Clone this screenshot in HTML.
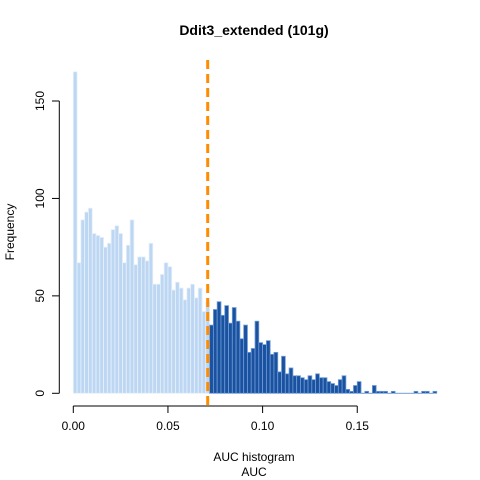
<!DOCTYPE html>
<html><head><meta charset="utf-8"><style>
html,body{margin:0;padding:0;background:#fff;}
svg{display:block;font-family:"Liberation Sans",sans-serif;}
</style></head><body>
<svg id="chart" width="480" height="480">
<text x="254" y="35" text-anchor="middle" font-weight="bold" font-size="14">Ddit3_extended (101g)</text>
<text x="254" y="461" text-anchor="middle" font-size="12">AUC histogram</text>
<text x="254" y="476" text-anchor="middle" font-size="12">AUC</text>
<text transform="translate(14,232) rotate(-90)" text-anchor="middle" font-size="12">Frequency</text>
<g id="bars"></g>
<g id="axes"></g>
</svg>
<script>
const binWidth = 0.002;
const threshold = 0.071;
const darkStart = 0.072;
const counts = [165,67,89,93,95,82,81,80,75,77,84,86,82,67,76,89,66,70,70,68,77,56,56,61,67,65,53,57,54,48,54,56,49,54,42,47,
35,43,47,40,45,36,44,37,28,35,21,23,37,26,25,27,20,21,11,19,10,13,9,9,8,7,9,7,10,8,8,6,5,4,7,9,2,1,4,6,0,1,0,4,1,1,1,0,1,0,0,0,0,0,1,0,1,1,0,1];
const xTicks = [0, 0.05, 0.10, 0.15];
const xTickLabels = ["0.00","0.05","0.10","0.15"];
const yTicks = [0, 50, 100, 150];

const NS = "http://www.w3.org/2000/svg";
const xS = v => 73.3 + v * 1893;
const yS = v => 393.3 - v * (292.3/150);
const bars = document.getElementById('bars');
const axes = document.getElementById('axes');
function mk(tag, attrs, parent){const e=document.createElementNS(NS,tag);for(const k in attrs)e.setAttribute(k,attrs[k]);parent.appendChild(e);return e;}

counts.forEach((c,i)=>{
  const x0 = i*binWidth, x1 = (i+1)*binWidth;
  const dark = x0 >= darkStart - 1e-9;
  let r;
  if (c<=0) {
    r = mk('line',{x1:xS(x0),x2:xS(x1),y1:yS(0),y2:yS(0),stroke:'#6f9bd6','stroke-width':1}, bars);
  } else {
    r = mk('rect',{x:xS(x0),y:yS(c),width:xS(x1)-xS(x0),height:yS(0)-yS(c),
      fill: dark?'#1a52a0':'#bdd7f3', stroke: dark?'#6f9bd6':'#e6f0fb','stroke-width':0.8}, bars);
  }
  
  
});

const tl = mk('line',{x1:xS(threshold),x2:xS(threshold),y1:60,y2:405,stroke:'#ff8c00','stroke-width':3,'stroke-dasharray':'9,5'}, bars);



const ya = mk('line',{x1:59.3,x2:59.3,y1:yS(150),y2:yS(0),stroke:'#000'},axes);


yTicks.forEach(v=>{
  mk('line',{x1:52,x2:59.3,y1:yS(v),y2:yS(v),stroke:'#000'},axes);
  const t = mk('text',{transform:`translate(44,${yS(v)}) rotate(-90)`,'text-anchor':'middle','font-size':12},axes);
  t.textContent = v;
  
  
});
const xa = mk('line',{x1:xS(0),x2:xS(0.15),y1:406,y2:406,stroke:'#000'},axes);


xTicks.forEach((v,i)=>{
  mk('line',{x1:xS(v),x2:xS(v),y1:406,y2:413,stroke:'#000'},axes);
  const t = mk('text',{x:xS(v),y:430,'text-anchor':'middle','font-size':12},axes);
  t.textContent = xTickLabels[i];
  
  
});
</script>
</body></html>
